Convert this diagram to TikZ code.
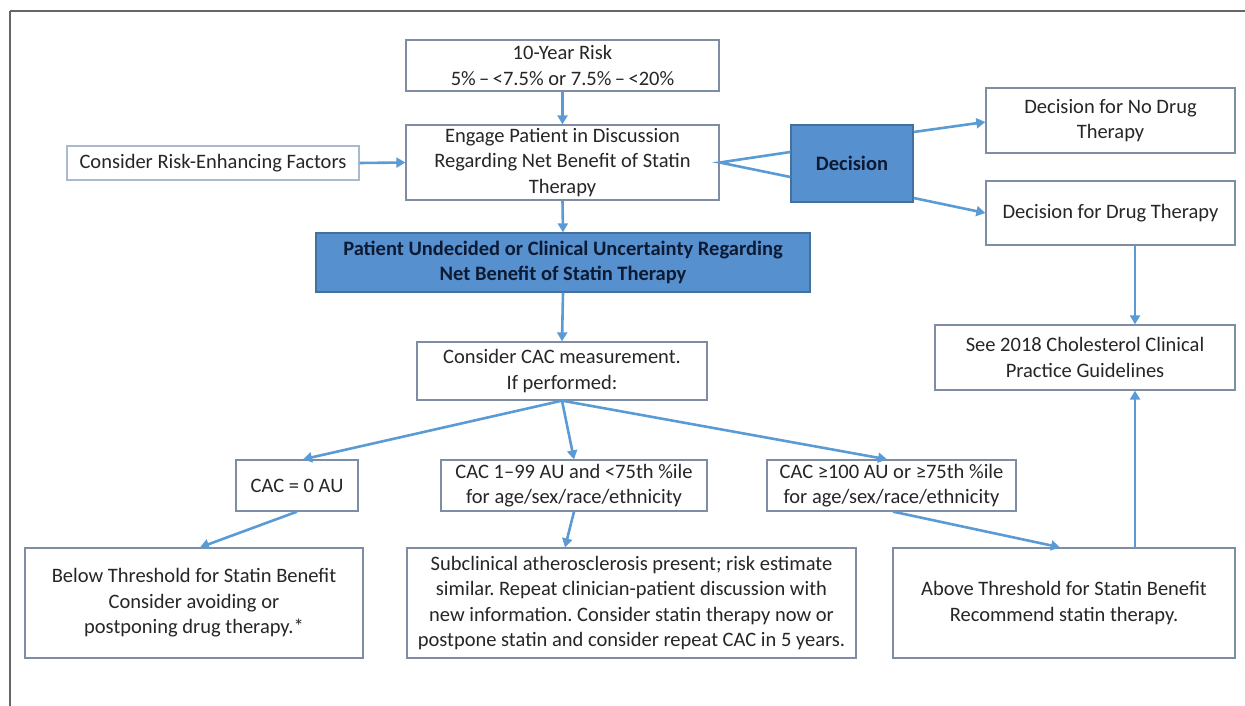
\documentclass[tikz,border=0pt]{standalone}
\usepackage{fontspec}
\setmainfont{Carlito}
\usetikzlibrary{arrows.meta,calc}
\definecolor{arrcol}{HTML}{5B9BD5}
\definecolor{boxline}{HTML}{7E8DA3}
\definecolor{lightline}{HTML}{A9B9CE}
\definecolor{decfill}{HTML}{5790CE}
\definecolor{decline}{HTML}{41719C}
\definecolor{txt}{HTML}{262626}
\definecolor{darktxt}{HTML}{0C1B33}
\definecolor{framecol}{HTML}{666666}
\tikzset{
  box/.style={draw=boxline, line width=1.3pt, fill=white, align=center, inner sep=0pt,
    text=txt, font=\fontsize{20.5}{25.5}\selectfont\frenchspacing},
  fbox/.style={draw=decline, line width=1.3pt, fill=decfill, align=center, inner sep=0pt,
    text=darktxt, font=\fontsize{20.5}{25.5}\selectfont\bfseries\frenchspacing},
  arr/.style={draw=arrcol, line width=2.6pt, -{Triangle[length=9pt,width=10pt]}},
  plain/.style={draw=arrcol, line width=2.6pt},
}
\begin{document}
\begin{tikzpicture}[x=1pt,y=-1pt]
\useasboundingbox (0,0) rectangle (1245,706);
\draw[framecol, line width=1.2pt] (10,11) -- (1245,11);
\draw[framecol, line width=1.2pt] (10,11) -- (10,706);

\node[box, minimum width=313pt, minimum height=51pt] (risk) at (562.5,65.5) {10-Year Risk\\5\%\,--\,<7.5\% or 7.5\%\,--\,<20\%};
\node[box, minimum width=313pt, minimum height=75pt] (engage) at (562.5,162.5) {Engage Patient in Discussion\\Regarding Net Benefit of Statin\\Therapy};
\node[box, draw=lightline, minimum width=292pt, minimum height=34pt] (factors) at (213,163) {Consider Risk-Enhancing Factors};
\node[fbox, minimum width=494pt, minimum height=59pt] (undecided) at (563,262.5) {Patient Undecided or Clinical Uncertainty Regarding\\Net Benefit of Statin Therapy};
\node[fbox, minimum width=122pt, minimum height=77pt] (decision) at (852,163.5) {Decision};
\node[box, minimum width=249pt, minimum height=65pt] (nodrug) at (1110.5,120.5) {Decision for No Drug\\Therapy};
\node[box, minimum width=249pt, minimum height=64pt] (drug) at (1110.5,213) {Decision for Drug Therapy};
\node[box, minimum width=300pt, minimum height=65pt] (see) at (1085,357.5) {See 2018 Cholesterol Clinical\\Practice Guidelines};
\node[box, minimum width=290pt, minimum height=58pt] (cac) at (562,371) {Consider CAC measurement.\\If performed:};
\node[box, minimum width=122pt, minimum height=51pt] (cac0) at (297,485.5) {CAC = 0 AU};
\node[box, minimum width=266pt, minimum height=51pt] (cac1) at (574,485.5) {CAC 1--99 AU and <75th \%ile\\for age/sex/race/ethnicity};
\node[box, minimum width=249pt, minimum height=51pt] (cac100) at (891.5,485.5) {CAC ≥100 AU or ≥75th \%ile\\for age/sex/race/ethnicity};
\node[box, minimum width=338pt, minimum height=110pt] (below) at (194,603) {Below Threshold for Statin Benefit\\Consider avoiding or\\postponing drug therapy.*};
\node[box, minimum width=449pt, minimum height=110pt] (sub) at (631.5,603) {Subclinical atherosclerosis present; risk estimate\\similar. Repeat clinician-patient discussion with\\new information. Consider statin therapy now or\\postpone statin and consider repeat CAC in 5 years.};
\node[box, minimum width=342pt, minimum height=110pt] (above) at (1064,603) {Above Threshold for Statin Benefit\\Recommend statin therapy.};

\draw[arr] (risk.south) -- (engage.north);
\draw[arr] (factors.east) -- (engage.west);
\draw[arr] (engage.south) -- (undecided.north);
\draw[plain] ([yshift=11.5pt]decision.west) -- (engage.east) -- ([yshift=-13.5pt]decision.west);
\draw[arr] ([yshift=31.5pt]decision.east) -- ([yshift=-1.5pt]nodrug.west);
\draw[arr] ([yshift=-34.5pt]decision.east) -- (drug.west);
\draw[arr] ([xshift=24.5pt]drug.south) -- ([xshift=50pt]see.north);
\draw[arr] ([xshift=71pt]above.north) -- ([xshift=50pt]see.south);
\draw[arr] (undecided.south) -- (cac.north);
\draw[arr] (cac.south) -- ([xshift=6pt]cac0.north);
\draw[arr] (cac.south) -- (cac1.north);
\draw[arr] (cac.south) -- ([xshift=-4.5pt]cac100.north);
\draw[arr] (cac0.south) -- ([xshift=6pt]below.north);
\draw[arr] (cac1.south) -- ([xshift=-66.5pt]sub.north);
\draw[arr] ([xshift=1.5pt]cac100.south) -- ([xshift=-4pt]above.north);
\end{tikzpicture}
\end{document}
